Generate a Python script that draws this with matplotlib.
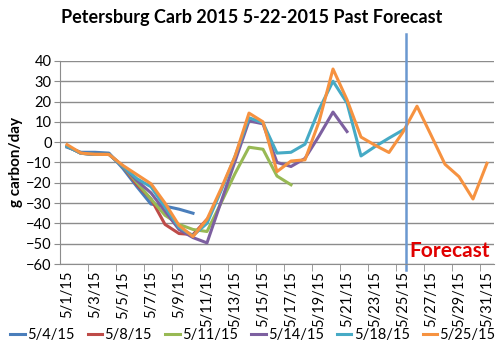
import numpy as np
import matplotlib
matplotlib.use("Agg")
import matplotlib.pyplot as plt

plt.rcParams['font.family'] = ['Lato', 'DejaVu Sans']

nan = np.nan
dates = ["5/%d/15" % d for d in range(1, 32)]

# past forecasts, one value per day from 5/1
s_0504 = [-2.5, -5, -5, -5.4, -13, -22, -30.5, -31.5, -33, -35]
s_0508 = [-2, -5.5, -6, -6, -12, -21, -28, -40.5, -45, -45.5, -38]
s_0511 = [-2, -5.5, -6, -6, -12, -20, -28, -36, -40.5, -43, -44, -30, -15.5,
          -2.5, -3.5, -16.7, -21]
s_0514 = [-2, -5.5, -6, -6, -12, -19, -25, -34, -43, -47, -49.6, -29.5, -9.5,
          10.5, 9, -10, -12, -8, 3, 14.8, 5.2]
s_0518 = [-2, -5.5, -6, -6, -12, -18, -22, -32, -42, -46, -40, -24, -7,
          12, 9.5, -5.4, -5, -1, 16, 30, 19.3, -6.8, -2.2, 2, 6]
s_0525 = [-1.2, -5.4, -6, -6.1, -11.5, -16, -20.5, -30, -41, -46.5, -38, -23, -7,
          14.3, 10, -14.5, -9.3, -8.7, 10, 36, 20.9, 2.5, -1.5, -5.1, 5,
          17.7, 3.5, -10.9, -17, -28, -10.4]

names = ["5/4/15", "5/8/15", "5/11/15", "5/14/15", "5/18/15", "5/25/15"]
series = [s_0504, s_0508, s_0511, s_0514, s_0518, s_0525]
colors = ["#4A7EBB", "#BE4B48", "#98B954", "#7D60A0", "#46AAC5", "#F69240"]

fig = plt.figure(figsize=(5, 3.52), dpi=100)
ax = fig.add_axes([0.12, 0.25, 0.868, 0.577])

x = np.arange(len(dates))
for name, s, c in zip(names, series, colors):
    ax.plot(x[:len(s)], s, color=c, lw=2.2, label=name, solid_joinstyle='round')

ax.set_xlim(-0.5, len(dates) - 0.5)
ax.set_ylim(-60, 40)
ax.set_yticks(range(-60, 41, 10))
ax.yaxis.grid(True, color="#8C8C8C", lw=1)
ax.set_axisbelow(True)
ax.tick_params(axis='y', labelsize=10.5, length=4, color="#8C8C8C", pad=2)

ax.set_xticks(x[::2])
ax.set_xticklabels(dates[::2], rotation=90, fontsize=10.5)
ax.set_xticks(np.arange(1.5, len(dates), 2), minor=True)
ax.tick_params(axis='x', which='major', length=0, pad=5)
ax.tick_params(axis='x', which='minor', length=5, color="#8C8C8C")

for sp in ['top', 'right']:
    ax.spines[sp].set_visible(False)
for sp in ['left', 'bottom']:
    ax.spines[sp].set_color("#8C8C8C")

ax.set_ylabel("g carbon/day", fontsize=11, fontweight='bold', labelpad=2)
fig.suptitle("Petersburg Carb 2015 5-22-2015 Past Forecast", fontsize=13,
             fontweight='bold', x=0.504, y=0.975)

# forecast marker
ax.axvline(24.2, ymin=-0.03, ymax=1.13, color="#6A98D0", lw=1.8, clip_on=False)
ax.text(24.45, -58.5, "Forecast", color="#E00000", fontsize=15, fontweight='bold',
        ha='left', va='bottom')

fig.legend(loc='lower center', ncol=6, frameon=False, fontsize=10.5,
           handlelength=1.0, handletextpad=0.15, columnspacing=0.9,
           borderpad=0.2, bbox_to_anchor=(0.506, 0.0))

fig.savefig("out.png", dpi=100)
